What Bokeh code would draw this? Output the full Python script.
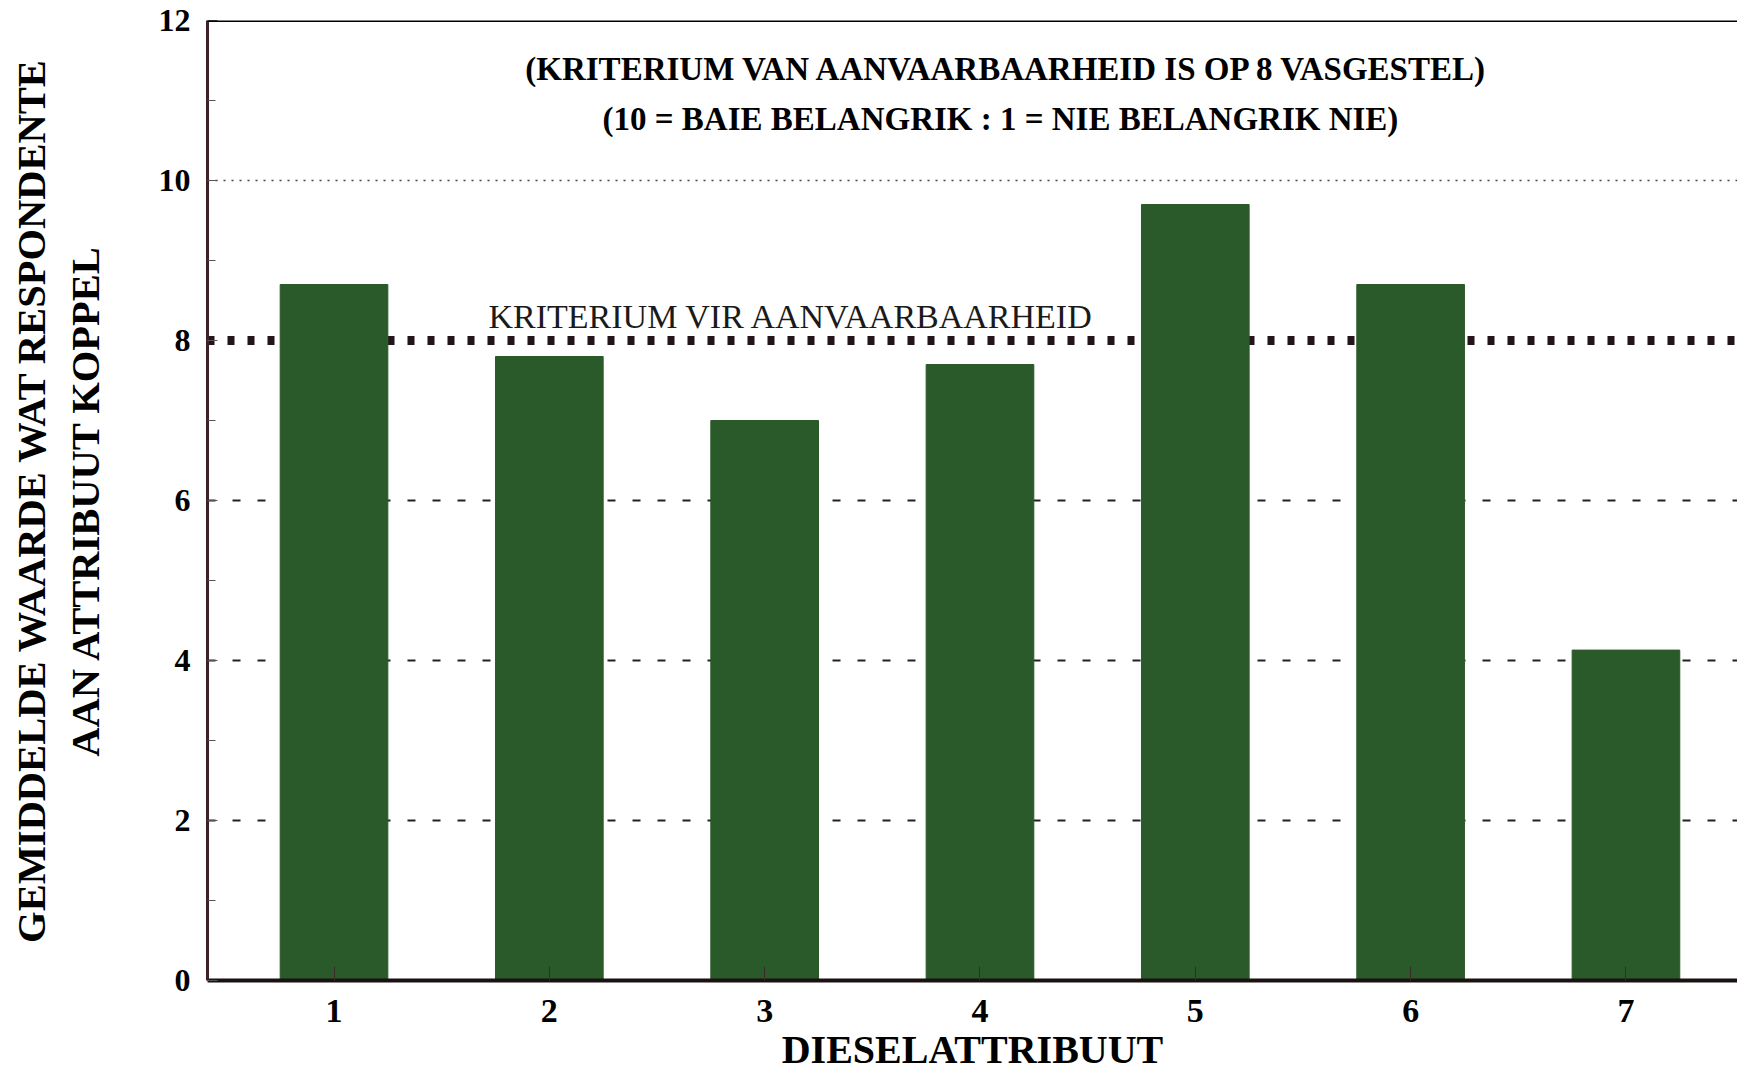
from bokeh.plotting import figure
from bokeh.models import (Range1d, Label, Span, SingleIntervalTicker, FixedTicker, Grid)
from bokeh.embed import file_html
from bokeh.resources import INLINE

# ---- data ----
attributes = [1, 2, 3, 4, 5, 6, 7]
mean_values = [8.7, 7.8, 7.0, 7.7, 9.7, 8.7, 4.13]
criterion = 8
dashed_grid_values = [2, 4, 6]
dotted_grid_values = [10]
title_line_1 = "(KRITERIUM VAN AANVAARBAARHEID IS OP 8 VASGESTEL)"
title_line_2 = "(10 = BAIE BELANGRIK : 1 = NIE BELANGRIK NIE)"
criterion_label = "KRITERIUM VIR AANVAARBAARHEID"
x_title = "DIESELATTRIBUUT"
y_title = "GEMIDDELDE WAARDE WAT RESPONDENTE\nAAN ATTRIBUUT KOPPEL"

FONT = "Liberation Serif"
GREEN = "#2b5a2a"

p = figure(width=1737, height=1075,
           x_range=Range1d(0.4125, 7.518), y_range=Range1d(0, 12),
           output_backend="svg", toolbar_location=None,
           min_border_left=207, min_border_right=0,
           min_border_top=20, min_border_bottom=95)
p.outline_line_color = None
p.background_fill_color = "white"
p.border_fill_color = "white"

# grids
p.xgrid.visible = False
p.ygrid.visible = False
g1 = Grid(dimension=1, ticker=FixedTicker(ticks=dashed_grid_values),
          grid_line_color="#222222", grid_line_width=2, grid_line_dash="8 17")
g2 = Grid(dimension=1, ticker=FixedTicker(ticks=dotted_grid_values),
          grid_line_color="#444444", grid_line_width=1.5, grid_line_dash="2 6")
p.add_layout(g1)
p.add_layout(g2)

# criterion line (under the bars)
p.add_layout(Span(location=criterion, dimension="width", line_color="#23151a",
                  line_width=9, line_dash="7 13", level="underlay"))

# bars
p.vbar(x=attributes, top=mean_values, width=0.5, fill_color=GREEN, line_color=GREEN)

# top border
p.add_layout(Span(location=12, dimension="width", line_color="black", line_width=3))

# y axis
ya = p.yaxis[0]
ya.ticker = SingleIntervalTicker(interval=2, num_minor_ticks=2)
ya.axis_line_color = "#3d2226"
ya.axis_line_width = 3
ya.major_tick_in = 10
ya.major_tick_out = 0
ya.minor_tick_in = 8
ya.minor_tick_out = 0
ya.major_tick_line_color = "#555555"
ya.minor_tick_line_color = "#555555"
ya.major_label_text_font = FONT
ya.major_label_text_font_style = "bold"
ya.major_label_text_font_size = "32px"
ya.major_label_text_color = "black"
ya.major_label_standoff = 17
ya.axis_label = y_title
ya.axis_label_text_font = FONT
ya.axis_label_text_font_style = "bold"
ya.axis_label_text_font_size = "40.5px"
ya.axis_label_text_color = "black"
ya.axis_label_standoff = 48

# x axis
xa = p.xaxis[0]
xa.ticker = FixedTicker(ticks=attributes)
xa.axis_line_color = "#1a1212"
xa.axis_line_width = 4
xa.major_tick_in = 14
xa.major_tick_out = 0
xa.major_tick_line_color = "#3a2a2a"
xa.minor_tick_line_color = None
xa.major_label_text_font = FONT
xa.major_label_text_font_style = "bold"
xa.major_label_text_font_size = "34px"
xa.major_label_text_color = "black"
xa.major_label_standoff = 19
xa.axis_label = x_title
xa.axis_label_text_font = FONT
xa.axis_label_text_font_style = "bold"
xa.axis_label_text_font_size = "40px"
xa.axis_label_text_color = "black"
xa.axis_label_standoff = 2

# annotations
p.add_layout(Label(x=4.128, y=11.4, text=title_line_1, text_align="center",
                   text_baseline="middle", text_font=FONT, text_font_style="bold",
                   text_font_size="33px", text_color="black"))
p.add_layout(Label(x=4.095, y=10.775, text=title_line_2, text_align="center",
                   text_baseline="middle", text_font=FONT, text_font_style="bold",
                   text_font_size="33px", text_color="black"))
p.add_layout(Label(x=1.7175, y=8.30, text=criterion_label, text_align="left",
                   text_baseline="alphabetic", text_font=FONT, text_font_style="normal",
                   text_font_size="34px", text_color="#1a1a1a"))

open("out.html", "w").write(file_html(p, INLINE))
